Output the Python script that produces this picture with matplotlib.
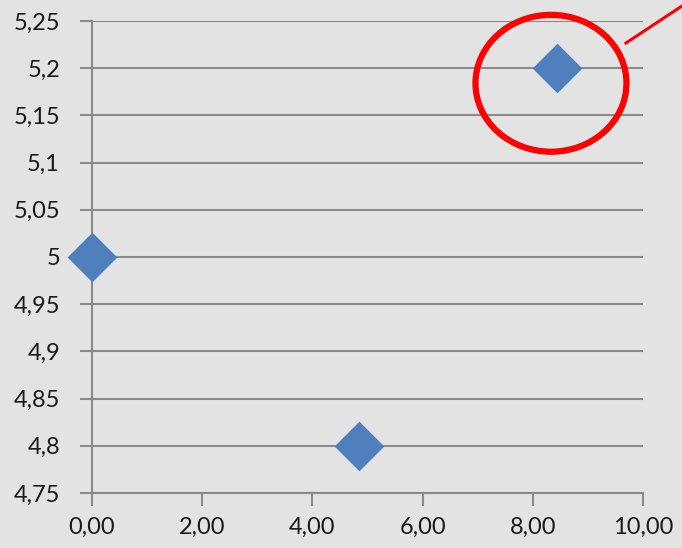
import matplotlib.pyplot as plt
from matplotlib.patches import Ellipse
from matplotlib.lines import Line2D
from matplotlib.ticker import FuncFormatter

# Puntos del gráfico de dispersión
x_vals = [0.0, 4.85, 8.44]
y_vals = [5.0, 4.8, 5.2]

x_ticks = [0, 2, 4, 6, 8, 10]
y_ticks = [4.75, 4.8, 4.85, 4.9, 4.95, 5.0, 5.05, 5.1, 5.15, 5.2, 5.25]

fondo = '#e3e3e3'
gris = '#8a8a8a'
azul = '#4f7fbc'

plt.rcParams['font.family'] = ['Lato', 'DejaVu Sans']

fig = plt.figure(figsize=(6.82, 5.48), dpi=100)
fig.patch.set_facecolor(fondo)
ax = fig.add_axes([0.1349, 0.1004, 0.8079, 0.8613])
ax.set_facecolor(fondo)

ax.scatter(x_vals, y_vals, marker='D', s=640, color=azul, zorder=3,
           clip_on=False, linewidths=0)

ax.set_xlim(0, 10)
ax.set_ylim(4.75, 5.25)
ax.set_xticks(x_ticks)
ax.set_yticks(y_ticks)

# Formato con coma decimal
ax.xaxis.set_major_formatter(FuncFormatter(lambda v, p: f'{v:.2f}'.replace('.', ',')))
ax.yaxis.set_major_formatter(FuncFormatter(lambda v, p: f'{v:g}'.replace('.', ',')))

ax.grid(axis='y', color=gris, linewidth=1.5)
ax.set_axisbelow(True)
for lado in ['top', 'right']:
    ax.spines[lado].set_visible(False)
for lado in ['left', 'bottom']:
    ax.spines[lado].set_color(gris)
    ax.spines[lado].set_linewidth(1.5)
ax.tick_params(axis='both', colors=gris, length=9, width=1.5,
               labelsize=17, labelcolor='#1a1a1a')
ax.tick_params(axis='y', pad=14)
ax.tick_params(axis='x', pad=8)

# Elipse roja que resalta el punto superior
elipse = Ellipse((8.33, 5.184), 2.74, 0.145, fill=False, edgecolor='red',
                 linewidth=4.5, zorder=4, clip_on=False)
ax.add_patch(elipse)

fig.add_artist(Line2D([626 / 682, 1.0], [1 - 43 / 548, 1 - 6 / 548],
                      transform=fig.transFigure, color='red', linewidth=2.2))

plt.savefig('out.png', dpi=100, facecolor=fondo)
